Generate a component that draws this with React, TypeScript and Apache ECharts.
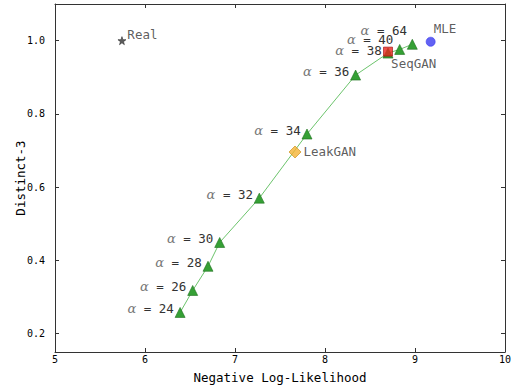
import React, { useEffect, useRef } from "react";
import * as echarts from "echarts";

const alphaValues = [24, 26, 28, 30, 32, 34, 36, 38, 40, 64];
const alphaNLL = [6.39, 6.53, 6.7, 6.83, 7.27, 7.8, 8.34, 8.7, 8.83, 8.97];
const alphaDistinct = [0.258, 0.318, 0.384, 0.449, 0.57, 0.745, 0.906, 0.966, 0.976, 0.99];

const baselineNames = ["Real", "LeakGAN", "SeqGAN", "MLE"];
const baselineNLL = [5.744, 7.667, 8.7, 9.174];
const baselineDistinct = [1.0, 0.696, 0.97, 0.997];

const xTicks = [5, 6, 7, 8, 9, 10];
const yTicks = [0.2, 0.4, 0.6, 0.8, 1.0];

const MONO = "DejaVu Sans Mono";

// label offsets (style only) for alpha labels that were nudged
const alphaLabelOffset: Record<number, [number, number]> = {
  38: [0, -3],
  40: [0, -10],
  64: [1, -14],
};

export default function App() {
  const ref = useRef<HTMLDivElement>(null);
  useEffect(() => {
    document.body.style.margin = "0";
    if (!ref.current) return;
    const chart = echarts.init(ref.current, null, { renderer: "svg" });

    const alphaData = alphaValues.map((a, i) => ({
      value: [alphaNLL[i], alphaDistinct[i]],
      label: {
        offset: alphaLabelOffset[a] || [0, -4],
        formatter: `{a|α}{b| = ${a}}`,
      },
    }));

    const styles: any = {
      Real: { symbol: "path://M50,0 L61,35 L98,35 L68,57 L79,91 L50,70 L21,91 L32,57 L2,35 L39,35 Z", size: 8, color: "#333", border: "#333", labelPos: "right", dist: 1, offset: [0, -6] },
      LeakGAN: { symbol: "diamond", size: 12, color: "#f5b335", border: "#c98a10", labelPos: "right", dist: 2, offset: [0, 0] },
      SeqGAN: { symbol: "rect", size: 9, color: "#e8251f", border: "#a01010", labelPos: [8, 17], dist: 0, offset: [0, 0] },
      MLE: { symbol: "circle", size: 9, color: "#3b3bf0", border: "#3b3bf0", labelPos: [8, -8], dist: 0, offset: [0, 0] },
    };

    const baselineSeries = baselineNames.map((n, i) => {
      const s = styles[n];
      return {
        type: "scatter",
        name: n,
        symbol: s.symbol,
        symbolSize: s.size,
        z: 5,
        itemStyle: { color: s.color, borderColor: s.border, borderWidth: 0.8 },
        label: {
          show: true,
          position: s.labelPos,
          distance: s.dist,
          offset: s.offset,
          formatter: n,
          fontFamily: MONO,
          fontSize: 12.5,
          color: "#333",
          align: "left",
          verticalAlign: "middle",
        },
        data: [[baselineNLL[i], baselineDistinct[i]]],
      };
    });

    const axisLineStyle = { color: "#333", width: 1 };

    chart.setOption({
      animation: false,
      grid: { left: 55, right: 6, top: 4, bottom: 38, containLabel: false, outerBoundsMode: "none" },
      xAxis: [
        {
          type: "value",
          min: 5,
          max: 10,
          interval: 1,
          name: "Negative Log-Likelihood",
          nameLocation: "middle",
          nameGap: 19,
          nameMoveOverlap: false,
          nameTextStyle: { fontFamily: MONO, fontSize: 12.5, color: "#000" },
          axisLine: { show: true, onZero: false, lineStyle: axisLineStyle },
          axisTick: { show: true, inside: true, length: 4, lineStyle: axisLineStyle },
          axisLabel: { fontFamily: MONO, fontSize: 10, color: "#000", margin: 2, formatter: (v: number) => (xTicks.includes(v) ? String(v) : "") },
          splitLine: { show: false },
        },
        {
          type: "value",
          position: "top",
          min: 5,
          max: 10,
          interval: 1,
          axisLine: { show: true, onZero: false, lineStyle: axisLineStyle },
          axisTick: { show: true, inside: true, length: 4, lineStyle: axisLineStyle },
          axisLabel: { show: false },
          splitLine: { show: false },
        },
      ],
      yAxis: [
        {
          type: "value",
          min: 0.15,
          max: 1.1,
          name: "Distinct-3",
          nameLocation: "middle",
          nameGap: 28,
          nameMoveOverlap: false,
          nameTextStyle: { fontFamily: MONO, fontSize: 12.5, color: "#000" },
          axisLine: { show: true, onZero: false, lineStyle: axisLineStyle },
          axisTick: { show: true, inside: true, length: 4, lineStyle: axisLineStyle, customValues: yTicks },
          axisLabel: { fontFamily: MONO, fontSize: 10, color: "#000", margin: 10, customValues: yTicks, formatter: (v: number) => v.toFixed(1) },
          splitLine: { show: false },
        },
        {
          type: "value",
          position: "right",
          min: 0.15,
          max: 1.1,
          axisLine: { show: true, onZero: false, lineStyle: axisLineStyle },
          axisTick: { show: true, inside: true, length: 4, lineStyle: axisLineStyle, customValues: yTicks },
          axisLabel: { show: false, customValues: yTicks },
          splitLine: { show: false },
        },
      ],
      series: [
        {
          type: "line",
          name: "alpha",
          symbol: "triangle",
          symbolSize: 10,
          z: 3,
          lineStyle: { color: "#6cc46c", width: 1 },
          itemStyle: { color: "#35a035", borderColor: "#1d6e1d", borderWidth: 0.6 },
          label: {
            show: true,
            position: "left",
            distance: 1,
            align: "right",
            verticalAlign: "middle",
            rich: {
              a: { fontFamily: "DejaVu Serif", fontStyle: "italic", fontSize: 13, color: "#777" },
              b: { fontFamily: MONO, fontSize: 12.5, color: "#333" },
            },
          },
          data: alphaData,
        },
        ...baselineSeries,
      ],
    });
    return () => chart.dispose();
  }, []);
  return <div ref={ref} style={{ width: 511, height: 390 }} />;
}
